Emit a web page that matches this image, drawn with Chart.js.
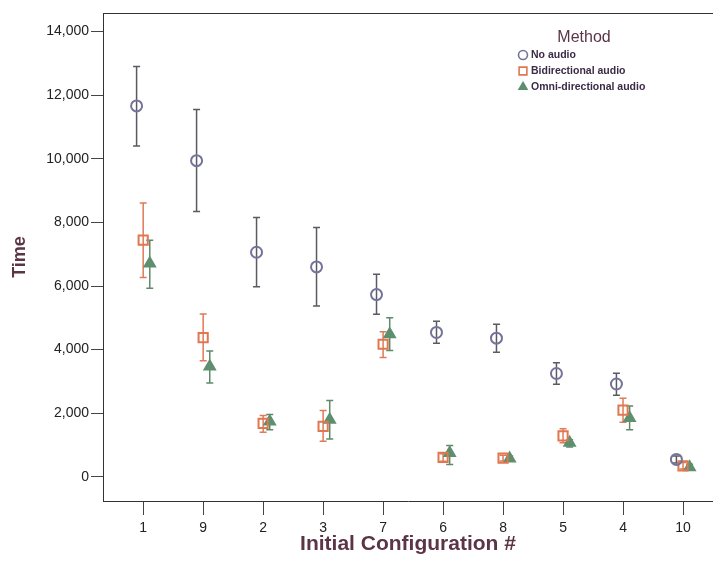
<!DOCTYPE html>
<html>
<head>
<meta charset="utf-8">
<script src="https://cdn.jsdelivr.net/npm/chart.js@4.4.0/dist/chart.umd.min.js"></script>
<style>
  html, body { margin: 0; padding: 0; background: #fff; overflow: hidden; }
</style>
</head>
<body>
<canvas id="chart" width="713" height="571"></canvas>
<script>
// Configuraciones en el orden del eje x
const configs = ["1", "9", "2", "3", "7", "6", "8", "5", "4", "10"];
const yTicks = [0, 2000, 4000, 6000, 8000, 10000, 12000, 14000];

// Sin audio (medias y barras de error)
const noAudioMean = [11660, 9940, 7060, 6600, 5730, 4540, 4360, 3250, 2920, 550];
const noAudioLow  = [10400, 8340, 5980, 5370, 5110, 4200, 3920, 2910, 2570, 440];
const noAudioHigh = [12900, 11550, 8150, 7840, 6370, 4890, 4800, 3590, 3260, 660];

// Audio bidireccional
const biMean = [7440, 4380, 1680, 1590, 4170, 615, 590, 1290, 2100, 345];
const biLow  = [6270, 3650, 1400, 1120, 3750, 490, 500, 1070, 1720, 245];
const biHigh = [8610, 5120, 1930, 2090, 4560, 730, 680, 1510, 2470, 450];

// Audio omnidireccional
const omniMean = [6710, 3470, 1740, 1800, 4480, 750, 580, 1070, 1850, 305];
const omniLow  = [5930, 2950, 1480, 1190, 3970, 390, 500, 940, 1480, 225];
const omniHigh = [7440, 3960, 1960, 2400, 5000, 990, 660, 1170, 2230, 400];

const series = [
  { label: "No audio", mean: noAudioMean, low: noAudioLow, high: noAudioHigh,
    dodge: -0.11, style: "circle", color: "#74739a", bar: "#5a5a62", fill: "rgba(255,255,255,0)", r: 5.5 },
  { label: "Bidirectional audio", mean: biMean, low: biLow, high: biHigh,
    dodge: 0, style: "rect", color: "#e0774f", bar: "#e07a58", fill: "rgba(255,255,255,0)", r: 6.5 },
  { label: "Omni-directional audio", mean: omniMean, low: omniLow, high: omniHigh,
    dodge: 0.11, style: "triangle", color: "#5e8f6e", bar: "#5e8a6a", fill: "#5e8f6e", r: 6 },
];

const FONT = "Arial, 'Liberation Sans', sans-serif";
const TITLE_COLOR = "#5b3445";

// Barras de error detras de los marcadores
const errorBarsPlugin = {
  id: "errorBars",
  beforeDatasetsDraw(c) {
    const ctx = c.ctx;
    const y = c.scales.y;
    series.forEach((s, di) => {
      const meta = c.getDatasetMeta(di);
      ctx.save();
      ctx.strokeStyle = s.bar;
      ctx.lineWidth = 1.5;
      meta.data.forEach((pt, i) => {
        const top = y.getPixelForValue(s.high[i]);
        const bot = y.getPixelForValue(s.low[i]);
        ctx.beginPath();
        ctx.moveTo(pt.x, top);
        ctx.lineTo(pt.x, bot);
        ctx.moveTo(pt.x - 3.5, top);
        ctx.lineTo(pt.x + 3.5, top);
        ctx.moveTo(pt.x - 3.5, bot);
        ctx.lineTo(pt.x + 3.5, bot);
        ctx.stroke();
      });
      ctx.restore();
    });
  },
};

// Linea superior del marco
const framePlugin = {
  id: "frame",
  afterDraw(c) {
    const { ctx, chartArea } = c;
    ctx.save();
    ctx.strokeStyle = "#333";
    ctx.lineWidth = 1;
    ctx.beginPath();
    ctx.moveTo(chartArea.left, chartArea.top + 0.5);
    ctx.lineTo(chartArea.right, chartArea.top + 0.5);
    ctx.stroke();
    ctx.restore();
  },
};

// Leyenda "Method" dentro del area
const legendPlugin = {
  id: "methodLegend",
  afterDraw(c) {
    const ctx = c.ctx;
    ctx.save();
    ctx.fillStyle = TITLE_COLOR;
    ctx.font = `16px ${FONT}`;
    ctx.textAlign = "center";
    ctx.textBaseline = "middle";
    ctx.fillText("Method", 584, 38);
    ctx.textAlign = "left";
    series.forEach((s, i) => {
      const yy = 55 + i * 16;
      ctx.strokeStyle = s.color;
      ctx.fillStyle = s.fill;
      ctx.lineWidth = 1.6;
      Chart.helpers.drawPoint(ctx, {
        pointStyle: s.style, radius: s.style === "rect" ? 5.5 : 4.5, rotation: 0,
        borderWidth: 1.6,
      }, 523, yy);
      ctx.font = `bold 10.5px ${FONT}`;
      ctx.fillStyle = "#3c2a46";
      ctx.fillText(s.label, 531, yy + 0.5);
    });
    ctx.restore();
  },
};

const datasets = series.map((s) => ({
  label: s.label,
  data: s.mean.map((v, i) => ({ x: i + s.dodge, y: v })),
  pointStyle: s.style,
  pointRadius: s.r,
  pointHoverRadius: s.r,
  pointBorderWidth: 2,
  pointBorderColor: s.color,
  pointBackgroundColor: s.fill,
  showLine: false,
}));

new Chart(document.getElementById("chart").getContext("2d"), {
  type: "scatter",
  data: { datasets },
  options: {
    responsive: false,
    animation: false,
    devicePixelRatio: 1,
    layout: { autoPadding: false, padding: { top: 13, right: 0, bottom: 0, left: 0 } },
    plugins: { legend: { display: false }, tooltip: { enabled: false } },
    scales: {
      x: {
        type: "linear",
        min: -0.67,
        max: 9.5,
        afterBuildTicks: (sc) => { sc.ticks = configs.map((_, i) => ({ value: i })); },
        afterFit: (sc) => { sc.height = 70; sc.paddingLeft = 0; sc.paddingRight = 0; },
        ticks: {
          callback: (v) => configs[v],
          font: { family: FONT, size: 14 },
          color: "#222",
          padding: 5,
          maxRotation: 0,
          autoSkip: false,
        },
        grid: { drawOnChartArea: false, drawTicks: true, tickLength: 14, color: "#444" },
        border: { display: true, color: "#333", width: 1 },
        title: {
          display: true,
          text: "Initial Configuration #",
          font: { family: FONT, size: 21, weight: "bold" },
          color: TITLE_COLOR,
          padding: { top: 0, bottom: 14 },
        },
      },
      y: {
        min: -757,
        max: 14580,
        afterBuildTicks: (sc) => { sc.ticks = yTicks.map((v) => ({ value: v })); },
        afterFit: (sc) => { sc.width = 103; },
        ticks: {
          callback: (v) => v.toLocaleString("en-US"),
          font: { family: FONT, size: 14 },
          color: "#222",
          padding: 2,
        },
        grid: { drawOnChartArea: false, drawTicks: true, tickLength: 12, color: "#444" },
        border: { display: true, color: "#333", width: 1 },
        title: {
          display: true,
          text: "Time",
          font: { family: FONT, size: 18, weight: "bold" },
          color: TITLE_COLOR,
          padding: { top: 9, bottom: 0 },
        },
      },
    },
  },
  plugins: [errorBarsPlugin, framePlugin, legendPlugin],
});
</script>
</body>
</html>
